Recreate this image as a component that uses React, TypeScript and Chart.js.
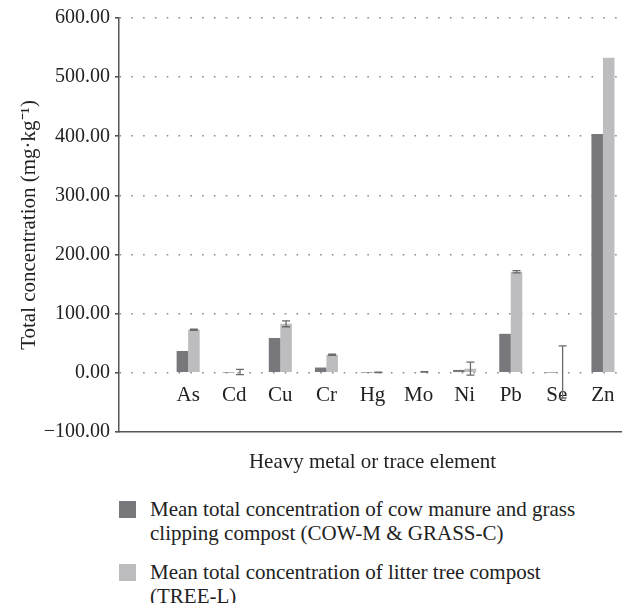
import React, { useEffect, useRef } from "react";
import { Chart, registerables } from "chart.js";

Chart.register(...registerables);

const categories = ["", "As", "Cd", "Cu", "Cr", "Hg", "Mo", "Ni", "Pb", "Se", "Zn"];
const cowValues = [null, 37, 0.4, 59, 9, 0.3, 1.5, 5, 66, 0.4, 404];
const treeValues = [null, 73, 1.5, 83, 30.5, 0.8, 1.5, 7, 171, 1.5, 533];
const treeErrors = [0, 1, 4.5, 5, 1, 0.4, 0.4, 11, 2, 44, 0];
const yTicks = [-100, 0, 100, 200, 300, 400, 500, 600];

const cowLabel = "Mean total concentration of cow manure and grass clipping compost (COW-M & GRASS-C)";
const treeLabel = "Mean total concentration of litter tree compost (TREE-L)";

const DARK = "#78787c";
const LIGHT = "#bdbdbf";
const FONT = "'Liberation Serif', 'Times New Roman', serif";

const errorBarPlugin = {
  id: "errorBars",
  afterDatasetsDraw(chart: any) {
    const ctx = chart.ctx;
    const yScale = chart.scales.y;
    chart.data.datasets.forEach((ds: any, di: number) => {
      const errs: number[] | undefined = ds.errors;
      if (!errs) return;
      const meta = chart.getDatasetMeta(di);
      meta.data.forEach((bar: any, i: number) => {
        const v = ds.data[i];
        const e = errs[i];
        if (v == null || !e) return;
        const x = bar.x;
        const yTop = yScale.getPixelForValue(v + e);
        const yBot = yScale.getPixelForValue(v - e);
        ctx.save();
        ctx.strokeStyle = "#6a6a6a";
        ctx.lineWidth = 1.3;
        ctx.beginPath();
        ctx.moveTo(x, yTop);
        ctx.lineTo(x, yBot);
        ctx.moveTo(x - 4, yTop);
        ctx.lineTo(x + 4, yTop);
        ctx.moveTo(x - 4, yBot);
        ctx.lineTo(x + 4, yBot);
        ctx.stroke();
        ctx.restore();
      });
    });
  },
};

export default function App() {
  const ref = useRef<HTMLCanvasElement | null>(null);

  useEffect(() => {
    if (!ref.current) return;
    const chart = new Chart(ref.current, {
      type: "bar",
      data: {
        labels: categories,
        datasets: [
          {
            label: cowLabel,
            data: cowValues as any,
            backgroundColor: DARK,
            categoryPercentage: 0.5,
            barPercentage: 1.0,
          },
          {
            label: treeLabel,
            data: treeValues as any,
            backgroundColor: LIGHT,
            categoryPercentage: 0.5,
            barPercentage: 1.0,
            errors: treeErrors,
          } as any,
        ],
      },
      plugins: [errorBarPlugin],
      options: {
        animation: false,
        responsive: false,
        layout: { padding: { top: 10, right: 4, left: 0, bottom: 0 } },
        plugins: {
          legend: { display: false },
          tooltip: { enabled: false },
        },
        scales: {
          x: {
            type: "category",
            position: { y: 0 } as any,
            grid: { display: false, drawTicks: false },
            border: { display: false },
            ticks: {
              color: "#222",
              padding: 10,
              autoSkip: false,
              maxRotation: 0,
              font: { family: FONT, size: 21 },
            },
            afterFit(scale: any) {
              scale.paddingLeft = 0;
              scale.paddingRight = 0;
            },
          },
          x2: {
            type: "category",
            position: "bottom",
            labels: categories,
            grid: { display: false, drawTicks: false },
            border: { display: true, color: "#555", width: 1.5 },
            ticks: { display: false },
            title: {
              display: true,
              text: "Heavy metal or trace element",
              color: "#222",
              font: { family: FONT, size: 21 },
              padding: { top: 8, bottom: 8 },
            },
            afterFit(scale: any) {
              scale.height = 51;
              scale.paddingLeft = 0;
              scale.paddingRight = 0;
            },
          },
          y: {
            type: "linear",
            min: -100,
            max: 600,
            afterBuildTicks(scale: any) {
              scale.ticks = yTicks.map((v) => ({ value: v }));
            },
            afterFit(scale: any) {
              scale.width = 111;
              scale.paddingTop = 0;
              scale.paddingBottom = 0;
            },
            grid: {
              color: (c: any) => (c.tick && c.tick.value === -100 ? "rgba(0,0,0,0)" : "#8a8a8a"),
              lineWidth: 1.6,
              drawTicks: true,
              tickLength: 4,
              tickColor: "#555",
              tickBorderDash: [],
            } as any,
            border: { display: true, color: "#555", width: 1.5, dash: [1.6, 10.2] },
            ticks: {
              color: "#222",
              padding: 5,
              font: { family: FONT, size: 20 },
              callback: (v: any) => {
                const n = Number(v);
                const s = Math.abs(n).toFixed(2);
                return n < 0 ? "\u2212" + s : s;
              },
            },
            title: {
              display: true,
              text: "Total concentration (mg\u00b7kg\u207b\u00b9)",
              color: "#222",
              font: { family: FONT, size: 21 },
              padding: { top: 9, bottom: 4 },
            },
          },
        },
      } as any,
    });
    return () => chart.destroy();
  }, []);

  const legendItem = (color: string, lines: string[], gap: number) => (
    <div style={{ display: "flex", alignItems: "flex-start", marginBottom: gap }}>
      <div
        style={{
          width: 17,
          height: 17,
          background: color,
          marginLeft: 111,
          marginTop: 4,
          flex: "0 0 auto",
        }}
      />
      <div style={{ marginLeft: 14, fontFamily: FONT, fontSize: 21, lineHeight: "24px", color: "#222", whiteSpace: "nowrap" }}>
        {lines.map((l, i) => (
          <div key={i}>{l}</div>
        ))}
      </div>
    </div>
  );

  return (
    <div style={{ width: 622 }}>
      <canvas ref={ref} width={622} height={475} style={{ display: "block", width: 622, height: 475 }} />
      <div style={{ marginTop: 14 }}>
        {legendItem(DARK, ["Mean total concentration of cow manure and grass", "clipping compost (COW-M & GRASS-C)"], 15)}
        {legendItem(LIGHT, ["Mean total concentration of litter tree compost", "(TREE-L)"], 0)}
      </div>
    </div>
  );
}
